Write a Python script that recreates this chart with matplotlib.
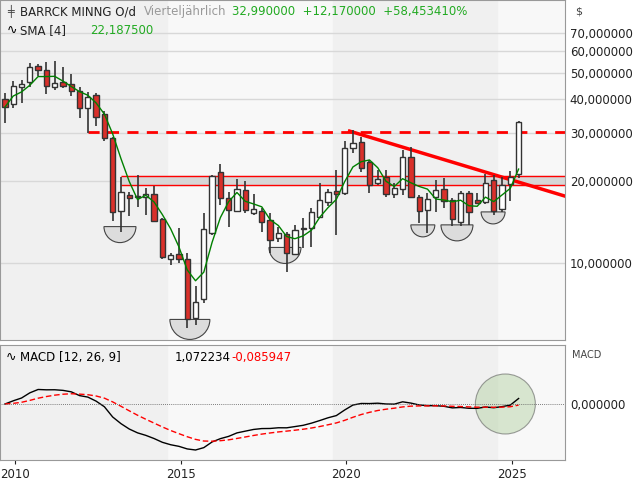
import numpy as np
import pandas as pd
import matplotlib
matplotlib.use("Agg")
import matplotlib.pyplot as plt
import matplotlib.transforms as mtransforms
from matplotlib.patches import Wedge, Circle

# quarterly candles, first one 2009 Q3
opens = [40.0, 38.3, 44.3, 46.2, 52.9, 51.1, 44.3, 46.2, 45.4, 42.8, 37.1, 41.4, 35.2, 28.8, 15.5, 17.8,
         17.6, 17.5, 17.9, 14.5, 10.3, 10.8, 10.3, 6.3, 7.4, 12.9, 21.6, 17.3, 15.5, 18.5, 15.3, 15.5,
         14.4, 12.4, 12.8, 10.8, 13.4, 13.4, 14.8, 16.7, 18.4, 18.1, 26.4, 27.8, 23.5, 19.7, 20.7, 17.9,
         18.7, 24.5, 17.5, 15.7, 17.5, 18.7, 17.0, 14.1, 18.1, 17.0, 16.7, 20.2, 15.8, 19.5, 21.2]
highs = [42.1, 46.6, 47.0, 54.2, 53.8, 54.6, 55.0, 52.4, 49.3, 44.3, 42.4, 42.1, 36.1, 29.0, 20.7, 18.2,
         21.0, 18.9, 19.2, 14.6, 10.9, 13.4, 10.9, 8.2, 15.3, 21.0, 23.1, 18.2, 20.3, 20.0, 17.9, 15.9,
         15.3, 13.6, 13.0, 13.8, 14.6, 15.9, 19.7, 18.7, 21.9, 28.0, 30.8, 29.0, 23.9, 21.9, 21.9, 19.7,
         26.0, 26.6, 17.8, 18.1, 20.2, 20.5, 17.3, 18.4, 18.4, 18.1, 21.2, 21.0, 20.7, 21.8, 33.2]
lows = [32.7, 37.1, 38.7, 44.3, 48.6, 41.8, 43.2, 44.0, 41.0, 34.1, 30.0, 31.9, 28.0, 14.3, 13.0, 14.9,
        16.0, 15.0, 14.1, 10.3, 9.8, 10.0, 5.77, 5.9, 7.1, 12.7, 16.3, 13.6, 15.4, 15.3, 15.0, 13.0,
        10.9, 11.9, 9.3, 10.7, 11.3, 11.4, 14.8, 16.2, 12.7, 17.8, 25.3, 21.6, 18.1, 19.3, 17.5, 17.3,
        17.8, 17.3, 14.0, 12.9, 15.4, 15.9, 13.7, 13.7, 13.8, 16.5, 16.5, 15.0, 15.4, 16.9, 20.5]
closes = [37.4, 44.7, 45.4, 52.4, 51.1, 44.7, 45.8, 44.7, 42.8, 37.1, 40.7, 34.3, 28.8, 15.4, 18.2, 17.3,
          17.5, 17.9, 14.3, 10.5, 10.7, 10.3, 6.2, 7.2, 13.3, 20.9, 17.3, 15.7, 18.7, 15.7, 15.8, 14.1,
          12.1, 12.9, 10.9, 13.2, 13.3, 15.4, 17.0, 18.2, 17.9, 26.4, 27.6, 22.3, 19.3, 20.3, 17.9, 18.9,
          24.5, 17.5, 15.5, 17.2, 18.5, 16.9, 14.5, 18.1, 15.4, 16.6, 19.7, 15.5, 19.3, 20.7, 32.99]

y_ticks = [10, 20, 30, 40, 50, 60, 70]
year_ticks = [2010, 2015, 2020, 2025]
# bowls under the lows: (year, top level, radius px)
bowls = [(2013.17, 13.6, 16), (2015.28, 6.2, 20), (2018.15, 11.4, 16),
         (2022.31, 13.8, 12), (2023.34, 13.8, 16), (2024.43, 15.4, 12)]

t = 2009.70 + 0.25 * np.arange(len(closes))
o, h, l, c = map(np.array, (opens, highs, lows, closes))
s = pd.Series(c)
sma = s.rolling(4, min_periods=1).mean()
macd = s.ewm(span=12, adjust=False).mean() - s.ewm(span=26, adjust=False).mean()
signal = macd.ewm(span=9, adjust=False).mean()

fig = plt.figure(figsize=(6.4, 4.8), dpi=100)
fig.patch.set_facecolor("white")
ax = fig.add_axes([0, 1 - 340 / 480, 565 / 640, 340 / 480])
ax2 = fig.add_axes([0, 20 / 480, 565 / 640, 115 / 480])
x0, x1 = 2009.55, 2026.6

def fmt(v):
    return f"{v:,.6f}".replace(".", "X").replace(",", ".").replace("X", ",")

for a in (ax, ax2):
    a.set_xlim(x0, x1)
    a.set_facecolor("#f8f8f8")
    a.axvspan(x0, 2014.6, color="#f0f0f0", zorder=0)
    a.axvspan(2019.6, 2024.55, color="#f0f0f0", zorder=0)
    for sp in a.spines.values():
        sp.set_color("#999999")
    a.yaxis.tick_right()
    a.tick_params(labelsize=8.5, length=0, colors="#222222")

ax.set_yscale("log")
ax.set_ylim(5.21, 92.5)
ax.set_yticks(y_ticks)
ax.set_yticklabels([fmt(v) for v in y_ticks])
ax.yaxis.set_minor_locator(matplotlib.ticker.NullLocator())
ax.grid(axis="y", color="#d8d8d8", lw=1)
ax.set_xticks([])
ax.set_axisbelow(True)

# resistance box and lines
ax.axhspan(19.3, 20.9, xmin=(2013.2 - x0) / (x1 - x0), color="#d6d6d6", zorder=1)
ax.hlines([19.3, 20.9], 2013.2, x1, color="red", lw=1, zorder=2)
ax.hlines(30.2, 2012.2, x1, color="red", lw=2, ls=(0, (4, 3)), zorder=2)
ax.plot([2020.1, 2026.6], [30.5, 17.6], color="red", lw=2.5, zorder=2)

for bx, by, r in bowls:
    tr = mtransforms.Affine2D().scale(r) + mtransforms.ScaledTranslation(bx, by, ax.transData)
    ax.add_patch(Wedge((0, 0), 1, 180, 360, transform=tr, facecolor="#dcdcdc",
                       edgecolor="#444444", lw=0.8, zorder=1.5))

up = c >= o
ax.vlines(t, l, h, color="#333333", lw=1.2, zorder=3)
ax.bar(t, np.abs(c - o), bottom=np.minimum(o, c), width=0.16,
       color=np.where(up, "white", "#d9302a"), edgecolor="#333333", lw=1, zorder=4)
ax.plot(t, sma, color="#008000", lw=1, zorder=5)

ax.text(0.012, 0.985, "\u256a", transform=ax.transAxes, fontsize=8, va="top", color="#444444")
ax.text(0.035, 0.985, "BARRCK MINNG O/d", transform=ax.transAxes, fontsize=8.5, va="top", color="#222222")
ax.text(0.255, 0.985, "Vierteljährlich", transform=ax.transAxes, fontsize=8.5, va="top", color="#999999")
ax.text(0.41, 0.985, "32,990000  +12,170000  +58,453410%", transform=ax.transAxes,
        fontsize=8.5, va="top", color="#22aa22")
ax.text(0.012, 0.93, "\u223f", transform=ax.transAxes, fontsize=9, va="top")
ax.text(0.035, 0.93, "SMA [4]", transform=ax.transAxes, fontsize=8.5, va="top", color="#222222")
ax.text(0.16, 0.93, "22,187500", transform=ax.transAxes, fontsize=8.5, va="top", color="#22aa22")
fig.text(575 / 640, 1 - 12 / 480, "$", fontsize=8, color="#444444", va="center")

# MACD
m = macd.min()
R = -m / 0.4
ax2.set_ylim(-0.487 * R, 0.513 * R)
ax2.plot(t, macd, color="black", lw=1)
ax2.plot(t, signal, color="red", lw=1, ls=(0, (4, 2)))
ax2.axhline(0, color="#555555", lw=0.6, ls=(0, (1, 1.5)))
ax2.set_yticks([0])
ax2.set_yticklabels([fmt(0)])
ax2.set_xticks(year_ticks)
ax2.tick_params(axis="x", length=3, pad=3)
tr = mtransforms.Affine2D().scale(30) + mtransforms.ScaledTranslation(2024.8, 0, ax2.transData)
ax2.add_patch(Circle((0, 0), 1, transform=tr, facecolor="#b7d3a8", alpha=0.5,
                     edgecolor="#444444", lw=0.8, zorder=1))
ax2.text(0.01, 0.95, "\u223f", transform=ax2.transAxes, fontsize=9, va="top")
ax2.text(0.035, 0.95, "MACD [12, 26, 9]", transform=ax2.transAxes, fontsize=8.5, va="top")
ax2.text(0.31, 0.95, "1,072234", transform=ax2.transAxes, fontsize=8.5, va="top")
ax2.text(0.41, 0.95, "-0,085947", transform=ax2.transAxes, fontsize=8.5, va="top", color="red")
fig.text(572 / 640, 1 - 355 / 480, "MACD", fontsize=7, color="#444444", va="center")

fig.savefig("out.png", dpi=100)
